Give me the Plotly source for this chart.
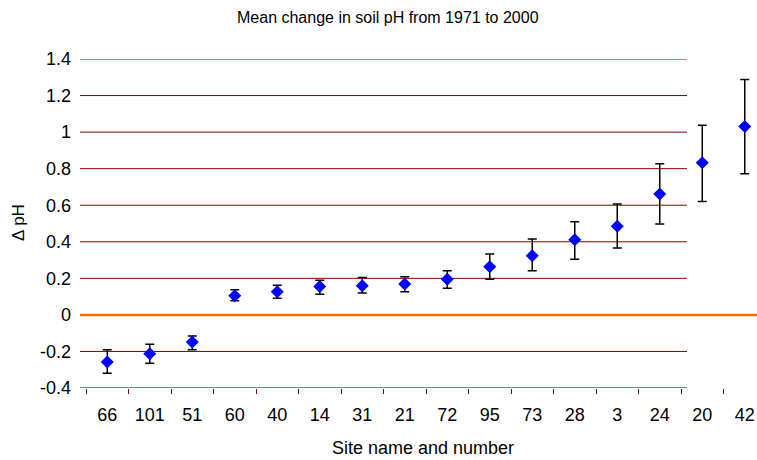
import plotly.graph_objects as go

# ---- data ----
sites = ["66", "101", "51", "60", "40", "14", "31", "21", "72", "95", "73", "28", "3", "24", "20", "42"]
mean_change = [-0.258, -0.213, -0.149, 0.105, 0.127, 0.155, 0.160, 0.169, 0.195,
               0.264, 0.324, 0.411, 0.485, 0.661, 0.832, 1.031]
err_up = [0.067, 0.053, 0.034, 0.032, 0.035, 0.035, 0.044, 0.040, 0.047,
          0.069, 0.091, 0.099, 0.122, 0.166, 0.206, 0.257]
err_down = [0.061, 0.051, 0.042, 0.028, 0.036, 0.042, 0.040, 0.043, 0.049,
            0.069, 0.082, 0.107, 0.119, 0.164, 0.211, 0.259]
y_ticks = [-0.4, -0.2, 0, 0.2, 0.4, 0.6, 0.8, 1, 1.2, 1.4]
y_ticktext = ["-0.4", "-0.2", "0", "0.2", "0.4", "0.6", "0.8", "1", "1.2", "1.4"]

W, H = 757, 460
ML, MR, MT, MB = 80, 0, 59, 72
plot_w = W - ML - MR
plot_h = H - MT - MB
cat_px = 42.5
x_lo = -0.5 - (86 - ML) / cat_px
x_hi = x_lo + plot_w / cat_px
grid_end = (687 - ML) / plot_w  # paper fraction where gridlines stop

FONT = "Liberation Sans, Arial, sans-serif"

fig = go.Figure()
fig.add_trace(go.Scatter(
    x=sites, y=mean_change, mode="markers",
    marker=dict(symbol="diamond", size=10, color="#0000FF", line=dict(width=0)),
    error_y=dict(type="data", symmetric=False, array=err_up, arrayminus=err_down,
                 color="#000000", thickness=1.5, width=4.5),
    showlegend=False, cliponaxis=False,
))

shapes = []
for v in y_ticks:
    if v == 0 or v == -0.4:
        continue
    shapes.append(dict(type="line", xref="paper", yref="y", x0=0, x1=grid_end, y0=v, y1=v,
                       line=dict(color="#800000", width=1), layer="below"))
# bottom axis line
shapes.append(dict(type="line", xref="paper", yref="y", x0=0, x1=grid_end, y0=-0.4, y1=-0.4,
                   line=dict(color="#A86A6A", width=2), layer="below"))
# zero line (orange), full width
shapes.append(dict(type="line", xref="paper", yref="y", x0=0, x1=1, y0=0, y1=0,
                   line=dict(color="#FF6A00", width=2.5), layer="below"))

fig.update_layout(
    width=W, height=H,
    margin=dict(l=ML, r=MR, t=MT, b=MB),
    paper_bgcolor="white", plot_bgcolor="white",
    font=dict(family=FONT, color="#000000"),
    shapes=shapes,
    xaxis=dict(type="category", categoryorder="array", categoryarray=sites,
               range=[x_lo, x_hi], showgrid=False, zeroline=False, showline=False,
               ticks="outside", tickson="boundaries", ticklen=5, tickwidth=1,
               tickcolor="#800000", tickfont=dict(size=18), ticklabelstandoff=14),
    yaxis=dict(range=[-0.4, 1.4], tickvals=y_ticks, ticktext=y_ticktext,
               showgrid=False, zeroline=False, showline=False, ticks="",
               tickfont=dict(size=18), ticklabelstandoff=8),
    annotations=[
        dict(text="Mean change in soil pH from 1971 to 2000", xref="paper", yref="paper",
             x=(388 - ML) / plot_w, y=1 + (MT - 17) / plot_h, xanchor="center",
             yanchor="middle", showarrow=False, font=dict(size=16)),
        dict(text="Site name and number", xref="paper", yref="paper",
             x=(423 - ML) / plot_w, y=-(448 - (H - MB)) / plot_h, xanchor="center",
             yanchor="middle", showarrow=False, font=dict(size=18)),
        dict(text="Δ pH", xref="paper", yref="paper", textangle=-90,
             x=-(ML - 18) / plot_w, y=1 - (223 - MT) / plot_h, xanchor="center",
             yanchor="middle", showarrow=False, font=dict(size=17)),
    ],
)

fig.write_html("out.html",
               config={"displayModeBar": False},
               post_script="document.body.style.margin='0';document.body.style.overflow='hidden';")
